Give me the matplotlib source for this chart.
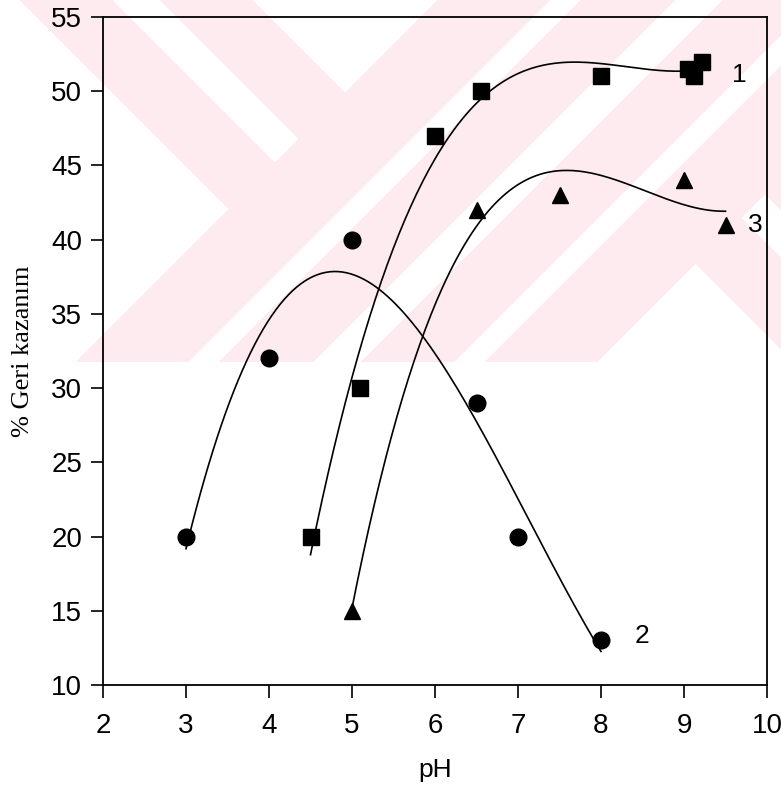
import numpy as np
import matplotlib
matplotlib.use("Agg")
import matplotlib.pyplot as plt

# data
ph_1 = [4.5, 5.1, 6.0, 6.55, 8.0, 9.05, 9.12, 9.22]
rec_1 = [20, 30, 47, 50, 51, 51.5, 51, 52]

ph_2 = [3, 4, 5, 6.5, 7, 8]
rec_2 = [20, 32, 40, 29, 20, 13]

ph_3 = [5, 6.5, 7.5, 9.0, 9.5]
rec_3 = [15, 42, 43, 44, 41]

W, H = 781, 789
fig = plt.figure(figsize=(W / 100, H / 100), dpi=100)
fig.patch.set_facecolor("white")

# faint pink watermark in the upper part of the page
wm_h = 362
ys, xs = np.mgrid[0:wm_h, 0:W]
u = xs - ys
v = xs + ys
white = np.zeros((wm_h, W), dtype=bool)
left = v < 437
white[left] = ((u < 20) | ((u >= 113) & (u < 160)) | (u >= 253))[left]
mid = (v >= 437) & (v < 959)
white[mid] = (((v >= 550) & (v < 580)) | ((v >= 675) & (v < 722)) | ((v >= 816) & (v < 846)))[mid]
right = v >= 959
white[right] = ((u > 664) | ((u >= 524) & (u < 571)) | (u <= 431))[right]
img = np.ones((wm_h, W, 3))
img[~white] = np.array([253, 235, 239]) / 255
fig.figimage(img, xo=0, yo=H - wm_h, origin="upper", zorder=-1)

ax = fig.add_axes([103 / W, 104 / H, 664 / W, 668 / H])
ax.patch.set_alpha(0)

for xd, yd, mk, ms in [(ph_1, rec_1, "s", 11), (ph_2, rec_2, "o", 12), (ph_3, rec_3, "^", 11)]:
    coef = np.polyfit(xd, yd, 3)
    xx = np.linspace(min(xd), max(xd), 200)
    ax.plot(xx, np.polyval(coef, xx), color="black", lw=1.2)
    ax.plot(xd, yd, linestyle="none", marker=mk, markersize=ms, color="black")

ax.text(9.58, 51.1, "1", fontsize=19, family="Liberation Sans", va="center")
ax.text(8.4, 13.3, "2", fontsize=19, family="Liberation Sans", va="center")
ax.text(9.77, 41.0, "3", fontsize=19, family="Liberation Sans", va="center")

ax.set_xlim(2, 10)
ax.set_ylim(10, 55)
ax.set_xticks(range(2, 11))
ax.set_yticks(range(10, 56, 5))
ax.tick_params(direction="out", length=9, width=1.2, labelsize=20, top=False, right=False)
ax.tick_params(axis="x", pad=11)
ax.tick_params(axis="y", pad=6)
for lab in ax.get_xticklabels() + ax.get_yticklabels():
    lab.set_family("Liberation Sans")
for s in ax.spines.values():
    s.set_linewidth(1.3)

ax.set_xlabel("pH", fontsize=19, family="Liberation Sans", labelpad=14)
ax.set_ylabel("% Geri kazanım", fontsize=19, family="Liberation Serif", labelpad=12)

fig.savefig("out.png", dpi=100)
